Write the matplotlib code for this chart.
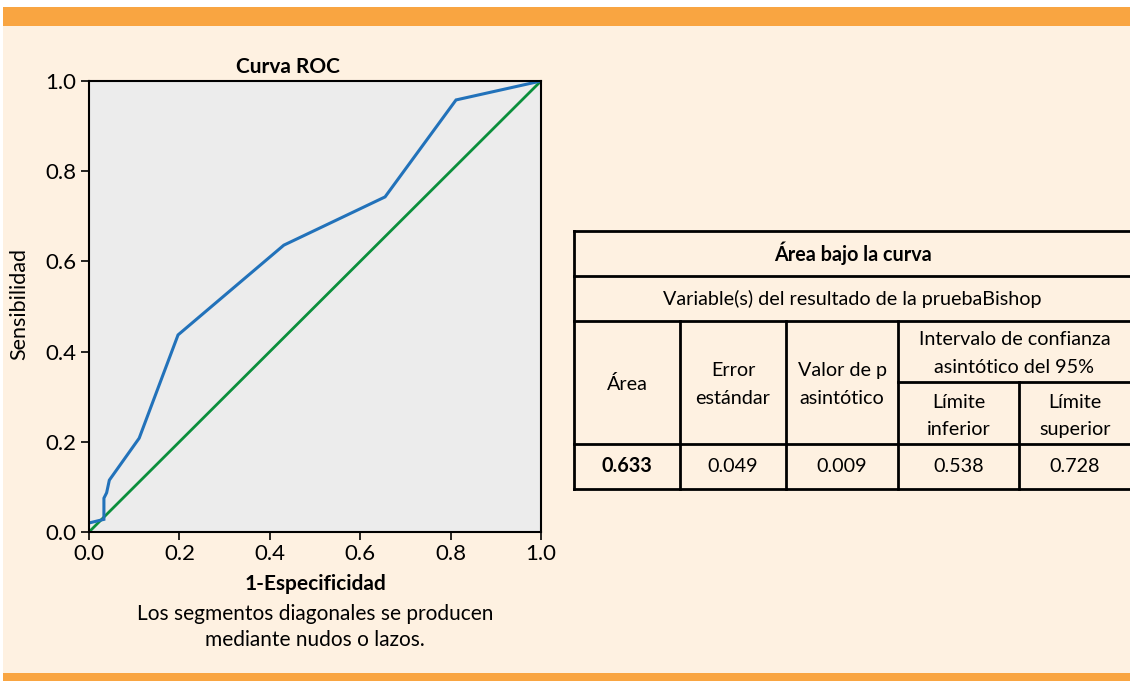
import matplotlib
matplotlib.use("Agg")
import matplotlib.pyplot as plt
from matplotlib.patches import Rectangle
from matplotlib.lines import Line2D

# ROC curve (1 - specificity, sensitivity)
fpr = [0.0, 0.033, 0.033, 0.039, 0.045, 0.111, 0.197, 0.431, 0.655, 0.812, 1.0]
tpr = [0.020, 0.028, 0.075, 0.087, 0.115, 0.208, 0.437, 0.636, 0.743, 0.958, 1.0]
ref_x = [0.0, 1.0]
ref_y = [0.0, 1.0]
ticks = [0.0, 0.2, 0.4, 0.6, 0.8, 1.0]
tick_labels = ["0.0", "0.2", "0.4", "0.6", "0.8", "1.0"]

# Area-under-curve table
table_title = "Área bajo la curva"
table_subtitle = "Variable(s) del resultado de la pruebaBishop"
col_headers = ["Área", "Error\nestándar", "Valor de p\nasintótico"]
ci_header = "Intervalo de confianza\nasintótico del 95%"
ci_subheaders = ["Límite\ninferior", "Límite\nsuperior"]
row_values = ["0.633", "0.049", "0.009", "0.538", "0.728"]

W, H = 1130, 681
CREAM = "#FEF1E1"
ORANGE = "#F9A541"
BLUE = "#2272BA"
GREEN = "#0B8F3C"
FONT = "Lato"
plt.rcParams["font.family"] = [FONT, "DejaVu Sans"]

fig = plt.figure(figsize=(W / 100, H / 100), dpi=100)
fig.patch.set_facecolor("white")

# page background and orange bands, in pixel coordinates
bg = fig.add_axes([0, 0, 1, 1], zorder=-5)
bg.set_xlim(0, W)
bg.set_ylim(H, 0)
bg.axis("off")
bg.add_patch(Rectangle((3, 7), W - 3, H - 7, facecolor=CREAM, edgecolor="none"))
bg.add_patch(Rectangle((3, 7), W - 3, 19, facecolor=ORANGE, edgecolor="none"))
bg.add_patch(Rectangle((3, 673), W - 3, 8, facecolor=ORANGE, edgecolor="none"))

# ROC plot
ax_l, ax_r, ax_t, ax_b = 89, 541, 81, 532
ax = fig.add_axes([ax_l / W, 1 - ax_b / H, (ax_r - ax_l) / W, (ax_b - ax_t) / H])
ax.set_facecolor("#ECECEC")
ax.plot(ref_x, ref_y, color=GREEN, lw=2.0, solid_capstyle="butt")
ax.plot(fpr, tpr, color=BLUE, lw=2.2, solid_joinstyle="miter")
ax.set_xlim(0, 1)
ax.set_ylim(0, 1)
ax.set_xticks(ticks)
ax.set_xticklabels(tick_labels)
ax.set_yticks(ticks)
ax.set_yticklabels(tick_labels)
ax.tick_params(direction="out", length=6, width=1.2, labelsize=16, pad=3, colors="black")
for s in ax.spines.values():
    s.set_linewidth(1.5)

bg.text(288, 67, "Curva ROC", ha="center", va="center", fontsize=15, fontweight="bold")
bg.text((ax_l + ax_r) / 2, 584, "1-Especificidad", ha="center", va="center",
        fontsize=15, fontweight="bold")
bg.text(19, 304, "Sensibilidad", ha="center", va="center", rotation=90, fontsize=15.5)

bg.text((ax_l + ax_r) / 2, 614, "Los segmentos diagonales se producen",
        ha="center", va="center", fontsize=15)
bg.text((ax_l + ax_r) / 2, 640, "mediante nudos o lazos.",
        ha="center", va="center", fontsize=15)

# table grid
cols = [574, 680, 786, 898, 1019, 1131]
rows = [231, 276, 321, 382, 444, 489]
LW = 2.0

def hline(y, x0, x1):
    bg.add_line(Line2D([x0, x1], [y, y], color="black", lw=LW, solid_capstyle="projecting"))

def vline(x, y0, y1):
    bg.add_line(Line2D([x, x], [y0, y1], color="black", lw=LW, solid_capstyle="projecting"))

for y in (rows[0], rows[1], rows[2], rows[4], rows[5]):
    hline(y, cols[0], cols[-1])
hline(rows[3], cols[3], cols[-1])
vline(cols[0], rows[0], rows[5])
for x in cols[1:4]:
    vline(x, rows[2], rows[5])
vline(cols[4], rows[3], rows[5])

FS = 14.2
LS = 1.75
bg.text((cols[0] + cols[-1]) / 2, (rows[0] + rows[1]) / 2, table_title,
        ha="center", va="center", fontsize=FS, fontweight="bold")
bg.text((cols[0] + cols[-1]) / 2, (rows[1] + rows[2]) / 2, table_subtitle,
        ha="center", va="center", fontsize=FS)
for i, label in enumerate(col_headers):
    bg.text((cols[i] + cols[i + 1]) / 2, (rows[2] + rows[4]) / 2 + 2, label,
            ha="center", va="center", fontsize=FS, linespacing=LS)
bg.text((cols[3] + cols[5]) / 2, (rows[2] + rows[3]) / 2 + 2, ci_header,
        ha="center", va="center", fontsize=FS, linespacing=LS)
for i, label in enumerate(ci_subheaders):
    bg.text((cols[3 + i] + cols[4 + i]) / 2, (rows[3] + rows[4]) / 2 + 3, label,
            ha="center", va="center", fontsize=FS, linespacing=LS)
for i, v in enumerate(row_values):
    bg.text((cols[i] + cols[i + 1]) / 2, (rows[4] + rows[5]) / 2, v,
            ha="center", va="center", fontsize=FS,
            fontweight="bold" if i == 0 else "normal")

fig.savefig("out.png", dpi=100, facecolor=fig.get_facecolor())
